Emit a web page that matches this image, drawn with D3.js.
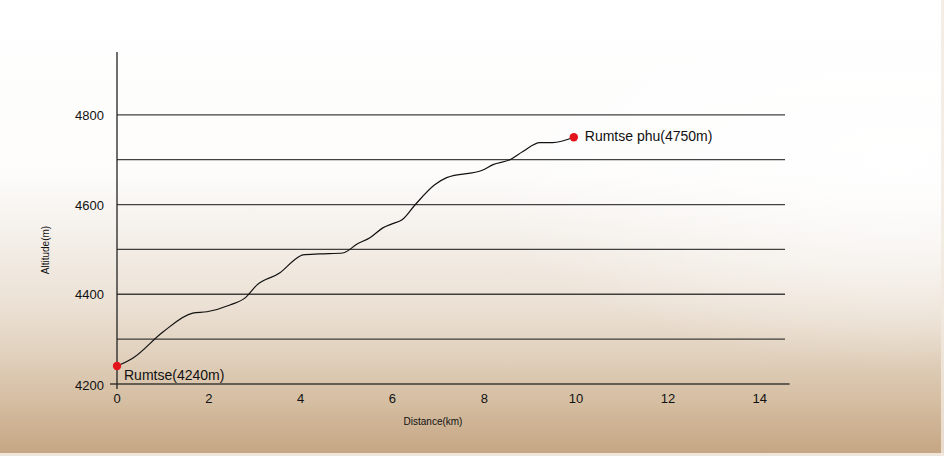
<!DOCTYPE html>
<html>
<head>
<meta charset="utf-8">
<script src="https://cdn.jsdelivr.net/npm/d3@7/dist/d3.min.js"></script>
<style>
  html, body { margin: 0; padding: 0; background: #fff; }
  svg { display: block; }
  text { font-family: "Liberation Sans", Arial, Helvetica, sans-serif; fill: #111; }
</style>
</head>
<body>
<svg id="chart" width="944" height="456"></svg>
<script>
// ---- data ----
const distanceKm = [0, 0.35, 1.0, 1.65, 1.96, 2.46, 2.79, 3.05, 3.55, 3.92, 4.05, 4.42, 4.92, 5.23, 5.51, 5.79, 5.99, 6.21, 6.49, 6.92, 7.18, 7.97, 8.19, 8.56, 8.84, 9.21, 9.49, 9.95];
const altitudeM  = [4240, 4258, 4316, 4358, 4361, 4376, 4392, 4421, 4448, 4481, 4488, 4490, 4492, 4512, 4526, 4548, 4557, 4566, 4599, 4644, 4660, 4677, 4689, 4700, 4718, 4738, 4738, 4750];
const xTicks = [0, 2, 4, 6, 8, 10, 12, 14];
const yTickLabels = [4200, 4400, 4600, 4800];
const yGrid = [4200, 4300, 4400, 4500, 4600, 4700, 4800];
const places = [
  { name: "Rumtse(4240m)", km: 0, alt: 4240, side: "below" },
  { name: "Rumtse phu(4750m)", km: 9.95, alt: 4750, side: "right" }
];

// ---- layout ----
const W = 944, H = 456;
const svg = d3.select("#chart");

const defs = svg.append("defs");
const bg = defs.append("linearGradient").attr("id", "bg").attr("x1", 0).attr("y1", 0).attr("x2", 0).attr("y2", 1);
[[0, "#ffffff"], [0.38, "#fdfcfb"], [0.52, "#f4efe9"], [0.66, "#ece2d6"], [0.77, "#e2d2bf"], [0.88, "#d5bea2"], [1, "#c4a482"]]
  .forEach(([o, c]) => bg.append("stop").attr("offset", o).attr("stop-color", c));
const glow = defs.append("radialGradient").attr("id", "glow").attr("cx", 0.95).attr("cy", 0.35).attr("r", 0.45);
glow.append("stop").attr("offset", 0).attr("stop-color", "#ffffff").attr("stop-opacity", 0.9);
glow.append("stop").attr("offset", 1).attr("stop-color", "#ffffff").attr("stop-opacity", 0);

svg.append("rect").attr("width", W).attr("height", H).attr("fill", "url(#bg)");
svg.append("rect").attr("width", W).attr("height", H).attr("fill", "url(#glow)");
// thin light border at bottom/right
svg.append("rect").attr("x", 0).attr("y", H - 3).attr("width", W).attr("height", 3).attr("fill", "#efe5d9");
svg.append("rect").attr("x", W - 3).attr("y", 0).attr("width", 3).attr("height", H).attr("fill", "#f1e9df").attr("opacity", 0.8);

const x = d3.scaleLinear().domain([0, 14.55]).range([117, 785]);
const y = d3.scaleLinear().domain([4200, 4940]).range([384, 52]);

// gridlines
svg.append("g").selectAll("line").data(yGrid).join("line")
  .attr("x1", x(0)).attr("x2", d => d === 4200 ? x(14.65) : x(14.55))
  .attr("y1", d => y(d)).attr("y2", d => y(d))
  .attr("stroke", "#222").attr("stroke-width", 1.3).attr("opacity", 0.85);

// y axis line
svg.append("line")
  .attr("x1", x(0)).attr("x2", x(0))
  .attr("y1", y(4940)).attr("y2", y(4200) + 5)
  .attr("stroke", "#222").attr("stroke-width", 1.3);
// tick at 4200
svg.append("line")
  .attr("x1", x(0) - 7).attr("x2", x(0))
  .attr("y1", y(4200)).attr("y2", y(4200))
  .attr("stroke", "#222").attr("stroke-width", 1.3);

// y tick labels
svg.append("g").selectAll("text").data(yTickLabels).join("text")
  .attr("x", 104).attr("y", d => y(d) + (d === 4200 ? 6 : 5))
  .attr("text-anchor", "end").attr("font-size", 13)
  .text(d => d);

// x tick labels
svg.append("g").selectAll("text").data(xTicks).join("text")
  .attr("x", d => x(d)).attr("y", 403)
  .attr("text-anchor", "middle").attr("font-size", 13)
  .text(d => d);

// axis titles
svg.append("text").attr("x", 433).attr("y", 425).attr("text-anchor", "middle")
  .attr("font-size", 10).text("Distance(km)");
svg.append("text").attr("transform", "translate(49,250) rotate(-90)")
  .attr("text-anchor", "middle").attr("font-size", 10).text("Altitude(m)");

// profile line
const pts = distanceKm.map((d, i) => [d, altitudeM[i]]);
const line = d3.line().x(d => x(d[0])).y(d => y(d[1])).curve(d3.curveMonotoneX);
svg.append("path").datum(pts).attr("d", line)
  .attr("fill", "none").attr("stroke", "#111").attr("stroke-width", 1.2);

// places
svg.append("g").selectAll("circle").data(places).join("circle")
  .attr("cx", d => x(d.km)).attr("cy", d => y(d.alt)).attr("r", 4.2)
  .attr("fill", "#e3141b");
svg.append("g").selectAll("text").data(places).join("text")
  .attr("x", d => x(d.km) + (d.side === "right" ? 11 : 7))
  .attr("y", d => y(d.alt) + (d.side === "right" ? 4 : 14))
  .attr("font-size", 14)
  .text(d => d.name);
</script>
</body>
</html>
